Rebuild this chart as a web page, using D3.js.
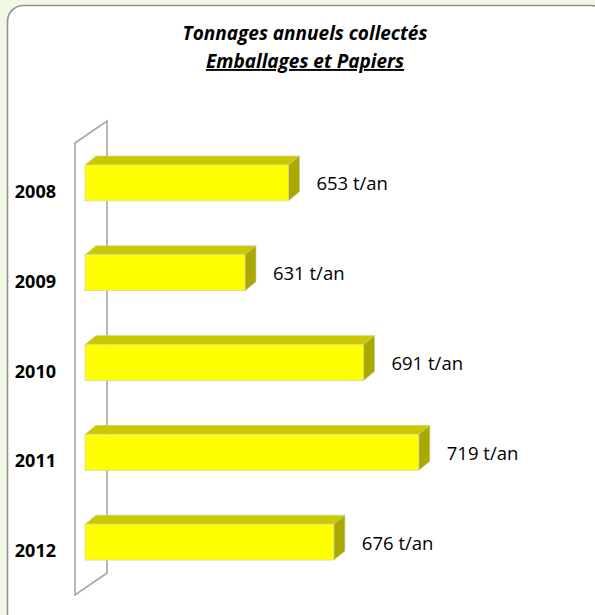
<!DOCTYPE html>
<html lang="fr">
<head>
  <meta charset="UTF-8">
  <title>Tonnages annuels collectés</title>
  <script src="https://d3js.org/d3.v7.min.js"></script>
  <style>
    body { margin: 0; background: #f1f8e6; }
    svg { display: block; font-family: "Open Sans", sans-serif; }
  </style>
</head>
<body>
<svg id="chart" width="595" height="615"></svg>
<script>
// data
const years = ["2008", "2009", "2010", "2011", "2012"];
const tonnages = [653, 631, 691, 719, 676];
const unit = "t/an";
const titleLines = ["Tonnages annuels collectés", "Emballages et Papiers"];
const xDomain = [550, 750];

const svg = d3.select("#chart");

// frame (rounded, cut off at right/bottom like the original)
svg.append("rect")
  .attr("x", 7.5).attr("y", 5.5)
  .attr("width", 600).attr("height", 625)
  .attr("rx", 16)
  .attr("fill", "#fff")
  .attr("stroke", "#939393")
  .attr("stroke-width", 1.6);

// title
svg.append("text")
  .attr("x", 305).attr("y", 40)
  .attr("text-anchor", "middle")
  .attr("font-size", 19).attr("font-weight", "bold").attr("font-style", "italic")
  .text(titleLines[0]);
svg.append("text")
  .attr("x", 305).attr("y", 68)
  .attr("text-anchor", "middle")
  .attr("font-size", 19).attr("font-weight", "bold").attr("font-style", "italic")
  .attr("text-decoration", "underline")
  .text(titleLines[1]);

// scales
const x = d3.scaleLinear().domain(xDomain).range([85, 480]);
const y = d3.scaleBand().domain(years).range([138, 587])
  .paddingInner(0.6).paddingOuter(0.3);

// 3d offsets
const wallDx = 32, wallDy = -22;
const barDx = 11, barDy = -9;

// back wall
const wx = 75, wTop = 143, wBot = 595;
svg.append("path")
  .attr("d", `M${wx},${wTop} L${wx + wallDx},${wTop + wallDy} L${wx + wallDx},${wBot + wallDy} L${wx},${wBot} Z`)
  .attr("fill", "#fff")
  .attr("stroke", "#a6a6a6")
  .attr("stroke-width", 1.6);

const rows = years.map((yr, i) => ({ year: yr, value: tonnages[i] }));

const bars = svg.append("g").selectAll("g")
  .data(rows)
  .join("g");

// top face
bars.append("path")
  .attr("d", d => {
    const x0 = x(xDomain[0]), x1 = x(d.value), y0 = y(d.year);
    return `M${x0},${y0} L${x0 + barDx},${y0 + barDy} L${x1 + barDx},${y0 + barDy} L${x1},${y0} Z`;
  })
  .attr("fill", "#c9c900")
  .attr("stroke", "#d2d2a0")
  .attr("stroke-width", 0.6);

// side face
bars.append("path")
  .attr("d", d => {
    const x1 = x(d.value), y0 = y(d.year), y1 = y0 + y.bandwidth();
    return `M${x1},${y0} L${x1 + barDx},${y0 + barDy} L${x1 + barDx},${y1 + barDy} L${x1},${y1} Z`;
  })
  .attr("fill", "#a9a900")
  .attr("stroke", "#c4c48a")
  .attr("stroke-width", 0.6);

// front face
bars.append("rect")
  .attr("x", x(xDomain[0]))
  .attr("y", d => y(d.year))
  .attr("width", d => x(d.value) - x(xDomain[0]))
  .attr("height", y.bandwidth())
  .attr("fill", "#ffff00")
  .attr("stroke", "#d6d6a6")
  .attr("stroke-width", 0.8);

// value labels
svg.append("g").selectAll("text")
  .data(rows)
  .join("text")
  .attr("x", d => x(d.value) + barDx + 17)
  .attr("y", d => y(d.year) + y.bandwidth() / 2)
  .attr("dominant-baseline", "central")
  .attr("font-size", 18.5)
  .attr("fill", "#000")
  .text(d => `${d.value} ${unit}`);

// category labels
svg.append("g").selectAll("text")
  .data(years)
  .join("text")
  .attr("x", 56)
  .attr("y", d => y(d) + y.bandwidth() / 2 + 8)
  .attr("text-anchor", "end")
  .attr("dominant-baseline", "central")
  .attr("font-size", 18)
  .attr("font-weight", "bold")
  .text(d => d);
</script>
</body>
</html>
